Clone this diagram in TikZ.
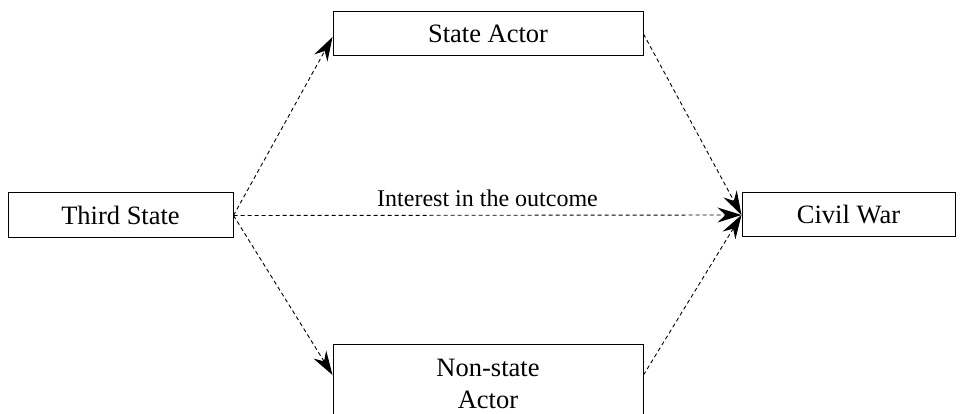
\documentclass[tikz,border=0pt]{standalone}
\usepackage{fontspec}
\setmainfont{Liberation Serif}
\usetikzlibrary{positioning,calc,arrows.meta}

\begin{document}
\begin{tikzpicture}[x=1pt,y=1pt]
	\tikzset{
		actorbox/.style={
			draw=black,
			line width=1pt,
			fill=white,
			inner sep=0pt,
			align=center,
			font=\fontsize{26.5}{32}\selectfont
		},
		linkarrow/.style={
			draw=black,
			line width=0.9pt,
			dash pattern=on 4pt off 3pt,
			-{Stealth[length=24pt,width=15pt,inset=8pt,fill=black]}
		}
	}
	\useasboundingbox (0,0) rectangle (961,414);

	\node[actorbox, minimum width=225pt, minimum height=45pt] (third) at (120.5,198.5) {Third State};
	\node[actorbox, minimum width=310pt, minimum height=44pt] (stateactor) at (488,380) {State Actor};
	\node[actorbox, minimum width=310pt, minimum height=78pt] (nonstate) at (488,30) {Non-state\\Actor};
	\node[actorbox, minimum width=213pt, minimum height=44pt] (civilwar) at (848.5,199) {Civil War};

	\draw[linkarrow] (third.east) -- ([yshift=-3pt]stateactor.west);
	\draw[linkarrow] (third.east) -- ([yshift=9pt]nonstate.west);
	\draw[linkarrow] (third.east) -- node[above=5pt, font=\fontsize{24}{28}\selectfont] (interest) {Interest in the outcome} (civilwar.west);
	\draw[linkarrow] (stateactor.east) -- (civilwar.west);
	\draw[linkarrow] ([yshift=9pt]nonstate.east) -- (civilwar.west);
\end{tikzpicture}
\end{document}
